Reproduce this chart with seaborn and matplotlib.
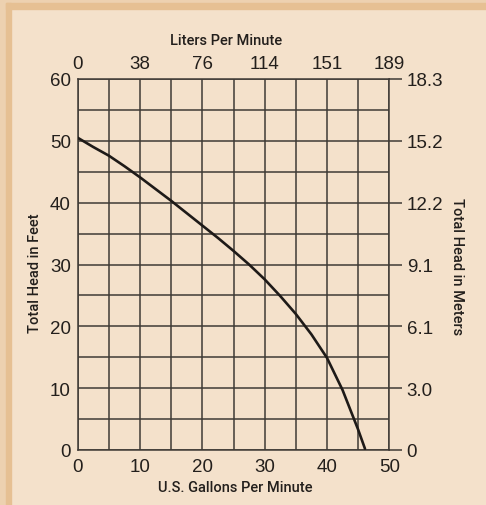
import matplotlib
matplotlib.use("Agg")
import matplotlib.pyplot as plt
import seaborn as sns
import pandas as pd
from matplotlib.patches import Rectangle

# ---- data ----
gpm = [0, 2.5, 5, 7.5, 10, 12.5, 15, 17.5, 20, 22.5, 25, 27.5, 30, 32.5, 35,
       37.5, 40, 42.5, 45, 46.1]
head_ft = [50.5, 49.0, 47.6, 45.9, 44.1, 42.2, 40.3, 38.3, 36.3, 34.3, 32.2,
           30.0, 27.6, 24.9, 22.0, 18.7, 14.9, 9.7, 3.3, 0.2]
gpm_ticks = [0, 10, 20, 30, 40, 50]
lpm_labels = ["0", "38", "76", "114", "151", "189"]
ft_ticks = [0, 10, 20, 30, 40, 50, 60]
meter_labels = ["0", "3.0", "6.1", "9.1", "12.2", "15.2", "18.3"]

df = pd.DataFrame({"gpm": gpm, "head": head_ft})

sns.set_theme(style="white")
plt.rcParams["font.family"] = ["Liberation Sans", "DejaVu Sans"]

BG = "#F4E1CB"
TXT = "#231f1c"
GRID = "#3f3a36"
TICK_FS = 13.5
LAB = dict(fontsize=10.5, fontweight="medium", color=TXT, family=["Roboto", "Liberation Sans"])

fig = plt.figure(figsize=(4.86, 5.06), dpi=100)
fig.patch.set_facecolor(BG)
# border stripes (left and top)
fig.patches.append(Rectangle((0, 0), 6/486, 1, transform=fig.transFigure, color="#EDD1B0", zorder=-2))
fig.patches.append(Rectangle((0, 1 - 4/506), 1, 4/506, transform=fig.transFigure, color="#EDD1B0", zorder=-2))
fig.patches.append(Rectangle((6/486, 0), 5/486, 1 - 4/506, transform=fig.transFigure, color="#E6C093", zorder=-1))
fig.patches.append(Rectangle((6/486, 1 - 10/506), 1, 6/506, transform=fig.transFigure, color="#E6C093", zorder=-1))

ax = fig.add_axes([77.7/486, 1 - 451/506, (389.3 - 77.7)/486, (451 - 80)/506])
ax.set_facecolor(BG)

sns.lineplot(data=df, x="gpm", y="head", ax=ax, color="#1e1a18", linewidth=1.9, zorder=5)

ax.set_xlim(0, 50)
ax.set_ylim(0, 60)
ax.set_xticks(gpm_ticks)
ax.set_xticks(range(5, 50, 10), minor=True)
ax.set_yticks(ft_ticks)
ax.set_yticks(range(5, 60, 10), minor=True)
ax.grid(True, which="both", color=GRID, linewidth=1.1)
for s in ax.spines.values():
    s.set_color(GRID)
    s.set_linewidth(1.1)
ax.tick_params(axis="both", which="both", length=0, labelsize=TICK_FS, labelcolor=TXT)
ax.tick_params(axis="x", pad=6)
ax.tick_params(axis="y", pad=5)
ax.set_xticklabels([str(t) for t in gpm_ticks])
ax.set_yticklabels([str(t) for t in ft_ticks])
ax.set_xlabel("U.S. Gallons Per Minute", **LAB)
ax.xaxis.set_label_coords(0.505, -0.082)
ax.set_ylabel("Total Head in Feet", va="center", **LAB)
ax.yaxis.set_label_coords(-0.137, 0.478)

axt = ax.twiny()
axt.set_xlim(0, 50)
axt.set_xticks(gpm_ticks)
axt.set_xticklabels(lpm_labels)
axt.tick_params(axis="x", length=0, labelsize=TICK_FS, labelcolor=TXT, pad=5)
axt.set_xlabel("Liters Per Minute", **LAB)
axt.xaxis.set_label_coords(0.475, 1.095)
for s in axt.spines.values():
    s.set_visible(False)

axr = ax.twinx()
axr.set_ylim(0, 60)
axr.set_yticks(ft_ticks)
axr.set_yticklabels(meter_labels)
axr.tick_params(axis="y", length=9.5, width=1.1, color=GRID, labelsize=TICK_FS, labelcolor=TXT, pad=3)
axr.set_ylabel("Total Head in Meters", rotation=270, va="center", **LAB)
axr.yaxis.set_label_coords(1.217, 0.496)
for s in axr.spines.values():
    s.set_visible(False)

fig.savefig("out.png", dpi=100, facecolor=fig.get_facecolor())
